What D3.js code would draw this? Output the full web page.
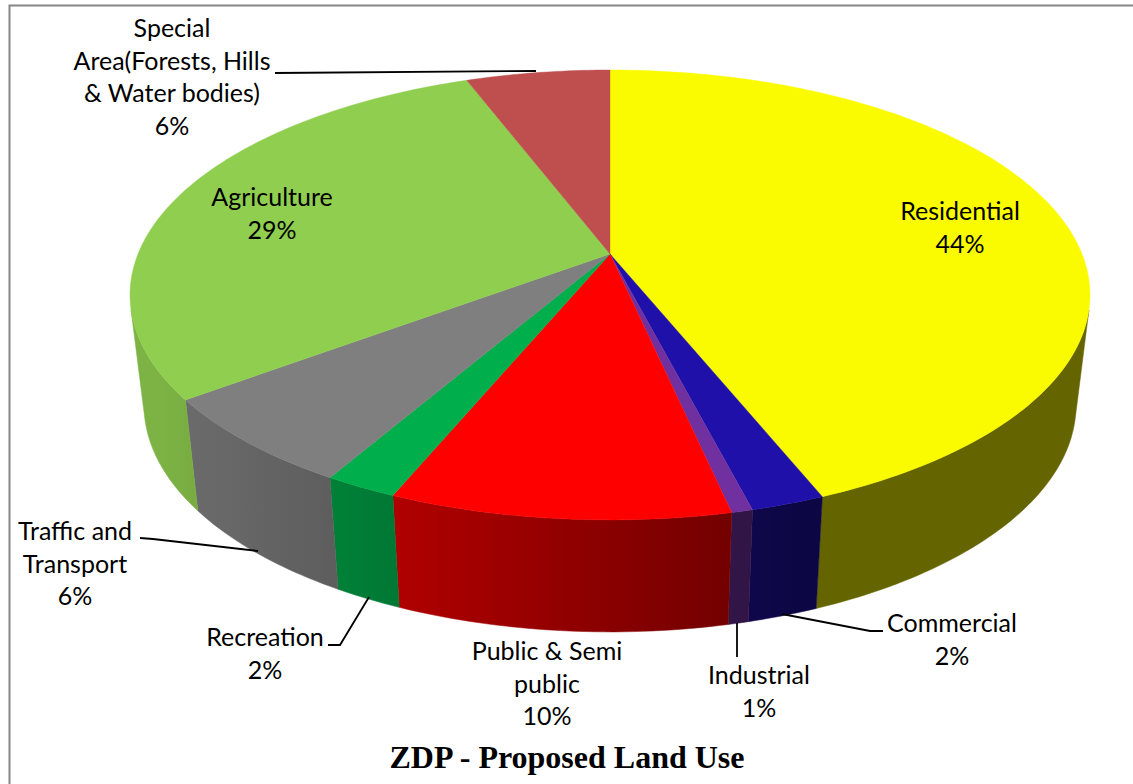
<!doctype html>
<html lang="en">
<head>
<title>ZDP - Proposed Land Use</title>
<script src="https://d3js.org/d3.v7.min.js"></script>
<style>
  body { margin: 0; background: #fff; }
  svg { display: block; }
  .lbl { font-family: Lato, sans-serif; font-size: 25px; fill: #000; text-anchor: middle; }
  .title { font-family: "Liberation Serif", serif; font-weight: bold; font-size: 32px; fill: #000; text-anchor: middle; }
  .leader { fill: none; stroke: #000; stroke-width: 1.8; }
</style>
</head>
<body>
<div id="chart"></div>
<script>
// values, clockwise from 12 o'clock
var categories = ["Residential", "Commercial", "Industrial", "Public & Semi public", "Recreation", "Traffic and Transport", "Agriculture", "Special Area(Forests, Hills & Water bodies)"];
var values = [43.9, 2.1, 0.6, 9.65, 2.08, 6.47, 29.42, 5.78];
var colors = ["#fbfb00", "#2010aa", "#7030a0", "#ff0000", "#00ae4b", "#7f7f7f", "#90ce4f", "#be4f4e"];
var labelLines = [
  ["Residential"],
  ["Commercial"],
  ["Industrial"],
  ["Public & Semi", "public"],
  ["Recreation"],
  ["Traffic and", "Transport"],
  ["Agriculture"],
  ["Special", "Area(Forests, Hills", "& Water bodies)"]
];

// label anchor: centre x, first baseline y
var labelPos = [[960, 220], [952, 632], [759, 684], [547, 660], [265, 646], [75, 540], [272, 206], [172, 37]];
var lineStep = 32.5;

var leaders = [
  [[275, 73], [536, 71]],
  [[140, 538], [153, 539], [258, 551]],
  [[328, 645], [340, 645], [369, 597]],
  [[883, 631], [870, 631], [782, 614]],
  [[737, 623], [737, 657]]
];

var width = 1133, height = 784;
var svg = d3.select("#chart").append("svg").attr("width", width).attr("height", height);
var defs = svg.append("defs");

// projected disc: apex of the pie sits above the centre of the ellipse
var cx = 610, apexY = 254;
var persp = -0.182, scaleX = 472, scaleY = 217.5;
var topEll = {cy: 295, rx: 480, ry: 225};
var botEll = {cy: 405, rx: 466, ry: 227};
var rimLimit = 0.246; // silhouette of the side wall, as -cos(angle)

function projectTop(a) {
  var X = Math.sin(a), Y = -Math.cos(a), w = 1 + persp * Y;
  return [cx + scaleX * X / w, apexY + scaleY * Y / w];
}
function toBottom(p) {
  return [cx + (p[0] - cx) * botEll.rx / topEll.rx, botEll.cy + (p[1] - topEll.cy) * botEll.ry / topEll.ry];
}
function arcAngles(a0, a1) {
  var n = Math.max(2, Math.ceil((a1 - a0) / (Math.PI / 180)));
  return d3.range(n + 1).map(function (i) { return a0 + (a1 - a0) * i / n; });
}

var pie = d3.pie().sort(null).value(function (d) { return d; });
var arcs = pie(values);
var line = d3.line();

// walls get darker towards the right
var shade = d3.scaleLinear().domain([150, 800]).range([0.87, 0.40]).clamp(true);

// side walls, front half only
var frontA0 = Math.acos(-rimLimit), frontA1 = 2 * Math.PI - frontA0;
var walls = svg.append("g");
arcs.forEach(function (d, i) {
  var lo = Math.max(d.startAngle, frontA0), hi = Math.min(d.endAngle, frontA1);
  if (lo >= hi) return;
  var rim = arcAngles(lo, hi).map(projectTop);
  var poly = rim.concat(rim.map(toBottom).reverse());
  var xs = poly.map(function (p) { return p[0]; });
  var x0 = d3.min(xs), x1 = d3.max(xs);
  var grad = defs.append("linearGradient").attr("id", "wall" + i)
    .attr("gradientUnits", "userSpaceOnUse")
    .attr("x1", x0).attr("x2", x1).attr("y1", 0).attr("y2", 0);
  d3.range(9).forEach(function (s) {
    var x = x0 + (x1 - x0) * s / 8, c = d3.rgb(colors[i]), f = shade(x);
    grad.append("stop").attr("offset", s / 8)
      .attr("stop-color", d3.rgb(c.r * f, c.g * f, c.b * f).formatHex());
  });
  walls.append("path").attr("d", line(poly) + "Z").attr("fill", "url(#wall" + i + ")")
    .attr("stroke", "url(#wall" + i + ")").attr("stroke-width", 0.5);
});

// top face
svg.append("g").selectAll("path").data(arcs).join("path")
  .attr("d", function (d) {
    var pts = [[cx, apexY]].concat(arcAngles(d.startAngle, d.endAngle).map(projectTop));
    return line(pts) + "Z";
  })
  .attr("fill", function (d, i) { return colors[i]; })
  .attr("stroke", function (d, i) { return colors[i]; })
  .attr("stroke-width", 0.4);

// frame, only its left and top edges fall inside the picture
svg.append("rect").attr("x", 9.5).attr("y", 5.5).attr("width", width + 20).attr("height", height + 20)
  .attr("fill", "none").attr("stroke", "#868686").attr("stroke-width", 2);

svg.append("g").selectAll("path").data(leaders).join("path")
  .attr("class", "leader")
  .attr("d", function (d) { return line(d); });

// labels
labelLines.forEach(function (lines, i) {
  var t = svg.append("text").attr("class", "lbl");
  lines.concat([Math.round(values[i]) + "%"]).forEach(function (s, k) {
    t.append("tspan").attr("x", labelPos[i][0]).attr("y", labelPos[i][1] + k * lineStep).text(s);
  });
});

svg.append("text").attr("class", "title").attr("x", 567).attr("y", 768).text("ZDP - Proposed Land Use");
</script>
</body>
</html>
